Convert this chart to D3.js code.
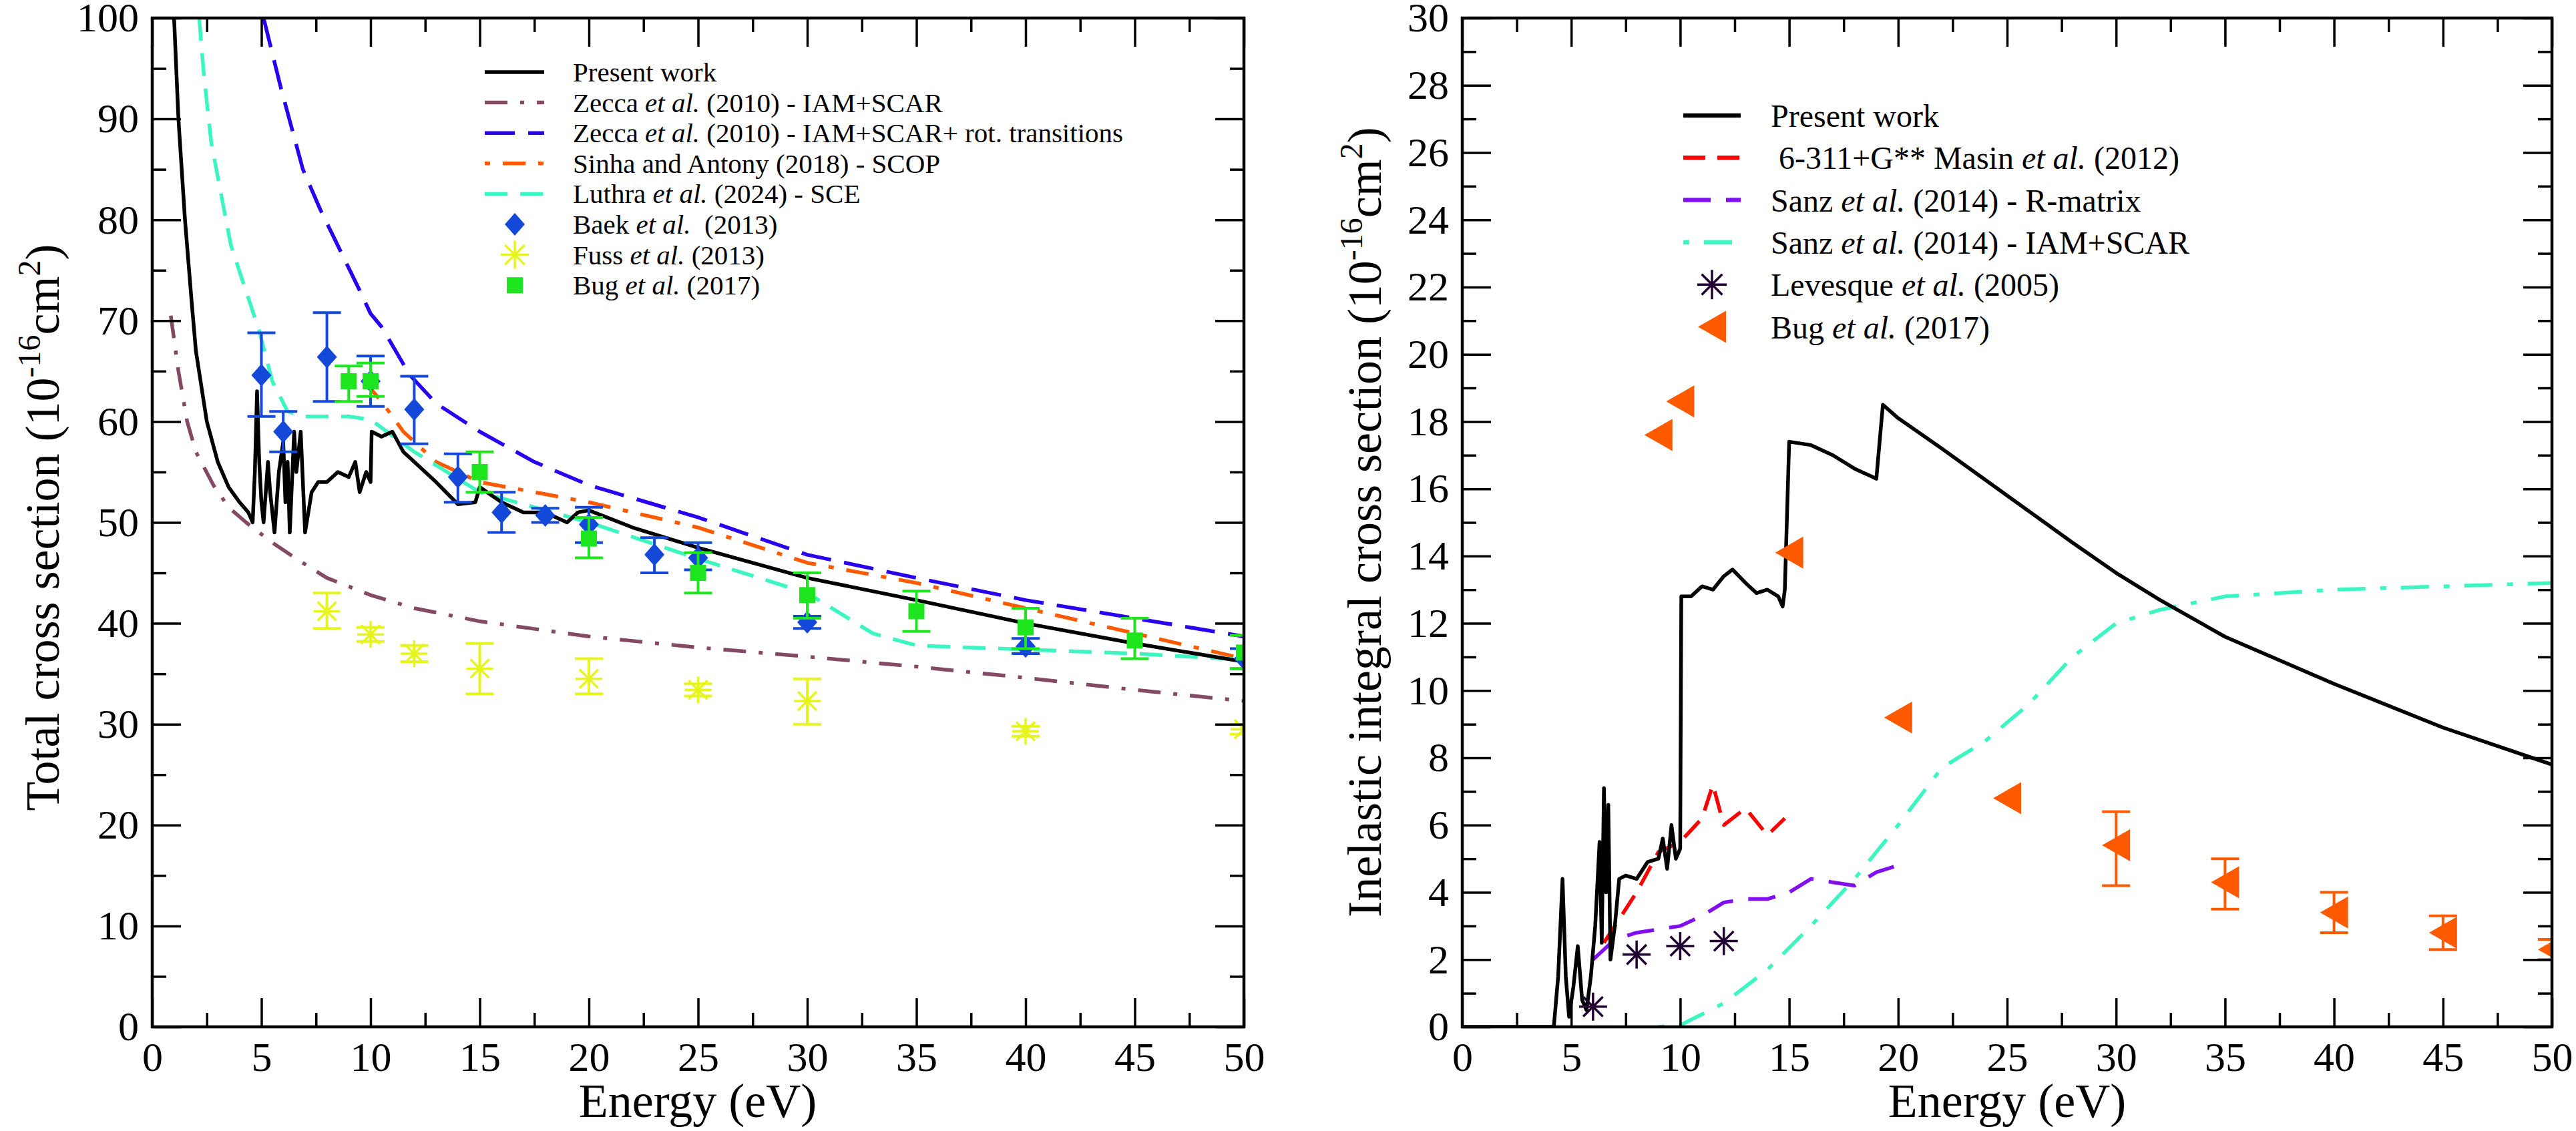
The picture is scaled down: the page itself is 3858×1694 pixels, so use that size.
<!DOCTYPE html>
<html><head><meta charset="utf-8">
<script src="https://cdn.jsdelivr.net/npm/d3@7"></script>
<style>body{margin:0;background:#fff}</style>
</head><body><svg id="c" width="3858" height="1694" xmlns="http://www.w3.org/2000/svg"></svg>
<script>
// ---------------- DATA (energy in eV, cross sections in 1e-16 cm^2) ----------------
// Left panel: total cross section
const totalPresent = [[1.0,100],[1.2,90],[1.5,80],[1.8,72],[2.0,67],[2.5,60],[3,56],[3.5,53.5],[4,52],[4.4,51],[4.6,50],[4.7,55],[4.8,63],[4.9,56],[5.0,52],[5.1,50],[5.3,56],[5.4,53],[5.6,49],[5.8,55],[6.0,58],[6.1,52],[6.2,56],[6.3,49],[6.5,59],[6.6,55],[6.8,59],[7.0,49],[7.3,53],[7.6,54],[8,54],[8.5,55],[9,54.5],[9.3,56],[9.5,53],[9.8,55],[10,54],[10.05,59],[10.5,58.5],[11,59],[11.5,57],[12,56],[13,54],[14,51.8],[14.8,52],[15,53.5],[16,52],[17,51],[18,51],[19,50],[19.5,51],[20,51.2],[22,49.5],[25,47.5],[30,44.5],[35,42.3],[40,40],[45,38],[50,36.2]];
const zeccaIAM = [[0.85,70.5],[1.2,65],[1.6,60],[2.0,57],[2.8,53.7],[3.5,51.5],[4.3,50],[5.5,48],[6.6,46.4],[8,44.5],[10,42.8],[12,41.5],[15,40.2],[20,38.7],[25,37.6],[30,36.7],[35,35.7],[40,34.6],[45,33.4],[50,32.3]];
const zeccaRot = [[5.1,100],[5.9,93],[6.9,85],[7.7,81],[8.6,77],[9.5,73],[10,70.7],[10.5,69.4],[11.8,64.6],[13,61.8],[15,59],[17.5,56],[20,53.7],[25,50.5],[30,46.8],[35,44.5],[40,42.3],[45,40.5],[50,38.7]];
const sinhaSCOP = [[9.7,64],[10.5,62],[11.5,59],[13,56],[15,54],[17.5,53],[20,52],[25,49.5],[30,46],[35,44],[40,41.5],[45,39],[50,36.5]];
const luthraSCE = [[2.15,100],[2.36,94.5],[2.7,87.7],[3.2,82],[3.6,77.5],[4.1,74.2],[4.9,69],[5.5,64],[6.2,61],[7,60.5],[8,60.5],[9,60.5],[10,60.2],[12,57],[15,53],[20,50],[25,46.4],[30,43],[33,39],[35,37.8],[40,37.4],[45,37],[50,36.4]];
// experimental points: [E, value, errLow, errHigh]
const baek = [[5,64.6,60.5,68.8],[6,59,57,61],[8,66.4,62,70.8],[10,64,61.5,66.5],[12,61.2,57.8,64.5],[14,54.5,52,56.8],[16,51,49,53],[18,50.7,50,51.4],[20,49.8,48,51.5],[23,46.8,45,48.5],[25,46.5,45.3,48],[30,40.1,39.5,40.7],[40,37.7,37,38.5],[50,36.5,35.5,37.5]];
const fuss = [[8,41.2,39.5,43],[10,38.9,38.2,39.6],[12,37,36.2,37.8],[15,35.5,33,38],[20,34.5,33,36.5],[25,33.4,32.8,34],[30,32.3,30,34.5],[40,29.3,28.8,29.8],[50,29.5,29,30]];
const bugTotal = [[9,64,62,65.5],[10,64,62.5,65.8],[15,55,53,57],[20,48.4,46.5,50.5],[25,45,43,47],[30,42.8,40.5,45],[35,41.2,39.2,43.2],[40,39.6,37.5,41.5],[45,38.3,36.5,40.5],[50,37.1,35.5,38.8]];

// Right panel: inelastic integral cross section
const inelPresent = [[0,0],[4.2,0],[4.4,1.5],[4.6,4.4],[4.75,1.5],[4.9,0.3],[5.1,1.2],[5.3,2.4],[5.5,0.8],[5.7,0.5],[5.9,1.5],[6.1,3],[6.3,5.5],[6.4,2.5],[6.5,7.1],[6.6,4],[6.7,6.6],[6.8,2],[7.0,3.0],[7.2,4.4],[7.5,4.5],[8,4.4],[8.5,4.9],[9,5],[9.2,5.6],[9.4,4.7],[9.6,6],[9.8,5],[10,5.3],[10.05,12.8],[10.5,12.8],[11,13.1],[11.5,13.0],[12,13.4],[12.4,13.6],[13,13.2],[13.5,12.9],[14,13],[14.5,12.8],[14.7,12.5],[14.8,13],[15,17.4],[16,17.3],[17,17.0],[18,16.6],[19,16.3],[19.3,18.5],[20,18.1],[22,17.2],[25,15.8],[28,14.4],[30,13.5],[32,12.7],[35,11.6],[40,10.2],[45,8.9],[50,7.8]];
const masin = [[6.5,2.5],[7,3],[8,4],[9,5.2],[10,5.5],[11,6.2],[11.5,7.2],[12,6],[13,6.5],[14,5.7],[14.8,6.2]];
const sanzR = [[6,2],[7,2.6],[8,2.8],[10,3],[11,3.3],[12,3.7],[13,3.8],[14,3.8],[15,4.0],[16,4.4],[17,4.3],[18,4.2],[19,4.6],[20,4.8]];
const sanzIAM = [[9,0],[10,0.05],[12,0.7],[14,1.7],[16,3],[18,4.4],[20,6],[22,7.7],[24,8.5],[26,9.6],[28,11.0],[30,12.0],[32,12.4],[35,12.8],[40,13.0],[45,13.1],[50,13.2]];
const levesque = [[6,0.6],[8,2.15],[10,2.4],[12,2.55]];
const bugInel = [[9,17.6,17.6,17.6],[10,18.6,18.6,18.6],[15,14.1,14.1,14.1],[20,9.2,9.2,9.2],[25,6.8,6.8,6.8],[30,5.4,4.2,6.4],[35,4.3,3.5,5.0],[40,3.4,2.8,4.0],[45,2.8,2.3,3.3],[50,2.3,2.0,2.6]];

// tick values
const xMajor = [0,5,10,15,20,25,30,35,40,45,50];
const xMinor = [2.5,7.5,12.5,17.5,22.5,27.5,32.5,37.5,42.5,47.5];
const yMajorL = [0,10,20,30,40,50,60,70,80,90,100];
const yMinorL = [5,15,25,35,45,55,65,75,85,95];
const yMajorR = [0,2,4,6,8,10,12,14,16,18,20,22,24,26,28,30];
const yMinorR = [1,3,5,7,9,11,13,15,17,19,21,23,25,27,29];

const legendLeft = ["Present work","Zecca |et al.| (2010) - IAM+SCAR","Zecca |et al.| (2010) - IAM+SCAR+ rot. transitions","Sinha and Antony (2018) - SCOP","Luthra |et al.| (2024) - SCE","Baek |et al.|  (2013)","Fuss |et al.| (2013)","Bug |et al.| (2017)"];
const legendRight = ["Present work"," 6-311+G** Masin |et al.| (2012)","Sanz |et al.| (2014) - R-matrix","Sanz |et al.| (2014) - IAM+SCAR","Levesque |et al.| (2005)","Bug |et al.| (2017)"];

// ---------------- DRAWING ----------------
const FONT = '"Liberation Serif","Times New Roman",Times,serif';
const svg = d3.select('#c');
svg.append('rect').attr('width',3858).attr('height',1694).attr('fill','#fff');

const C = {
  black:'#000', zeccaIAM:'#844a63', zeccaRot:'#2a00f0', sinha:'#ff5a00', luthra:'#3cf5c0',
  baek:'#1448d8', fuss:'#e6f51e', bug:'#1ee61e', masin:'#ff0000', sanzR:'#8010f0', sanzIAM:'#3cf5c0',
  lev:'#200030', bugR:'#ff5a00'
};
const LW = 5.5;

function makePanel(id, x0, x1, y0, y1, ymax, yMajor, yMinor){
  const x = d3.scaleLinear().domain([0,50]).range([x0,x1]);
  const y = d3.scaleLinear().domain([0,ymax]).range([y1,y0]);
  const g = svg.append('g');
  svg.append('clipPath').attr('id','clip'+id).append('rect')
    .attr('x',x0).attr('y',y0).attr('width',x1-x0).attr('height',y1-y0);
  const gd = g.append('g').attr('clip-path','url(#clip'+id+')');
  const axG = g.append('g');
  const fmt = d3.format('d');
  const style = s => { s.select('.domain').remove(); s.selectAll('line').attr('stroke','#000').attr('stroke-width',3.5);
    s.selectAll('text').attr('font-family',FONT).attr('font-size',62).attr('fill','#000'); };
  axG.append('g').attr('transform',`translate(0,${y1})`).call(d3.axisBottom(x).tickValues(xMajor).tickFormat(fmt).tickSizeInner(-43).tickSizeOuter(0).tickPadding(22)).call(style);
  axG.append('g').attr('transform',`translate(0,${y1})`).call(d3.axisBottom(x).tickValues(xMinor).tickFormat('').tickSizeInner(-21).tickSizeOuter(0)).call(style);
  axG.append('g').attr('transform',`translate(0,${y0})`).call(d3.axisTop(x).tickValues(xMajor).tickFormat('').tickSizeInner(-43).tickSizeOuter(0)).call(style);
  axG.append('g').attr('transform',`translate(0,${y0})`).call(d3.axisTop(x).tickValues(xMinor).tickFormat('').tickSizeInner(-21).tickSizeOuter(0)).call(style);
  axG.append('g').attr('transform',`translate(${x0},0)`).call(d3.axisLeft(y).tickValues(yMajor).tickFormat(fmt).tickSizeInner(-43).tickSizeOuter(0).tickPadding(20)).call(style);
  axG.append('g').attr('transform',`translate(${x0},0)`).call(d3.axisLeft(y).tickValues(yMinor).tickFormat('').tickSizeInner(-21).tickSizeOuter(0)).call(style);
  axG.append('g').attr('transform',`translate(${x1},0)`).call(d3.axisRight(y).tickValues(yMajor).tickFormat('').tickSizeInner(-43).tickSizeOuter(0)).call(style);
  axG.append('g').attr('transform',`translate(${x1},0)`).call(d3.axisRight(y).tickValues(yMinor).tickFormat('').tickSizeInner(-21).tickSizeOuter(0)).call(style);
  axG.append('rect').attr('x',x0).attr('y',y0).attr('width',x1-x0).attr('height',y1-y0)
    .attr('fill','none').attr('stroke','#000').attr('stroke-width',4.5);
  return {x,y,gd,g,axG};
}

function drawLine(p, data, color, dash){
  const line = d3.line().x(d=>p.x(d[0])).y(d=>p.y(d[1]));
  p.gd.append('path').datum(data).attr('d',line).attr('fill','none')
    .attr('stroke',color).attr('stroke-width',LW).attr('stroke-linejoin','round')
    .attr('stroke-dasharray',dash||null);
}
const diamond = 'M0,-17L15,0L0,17L-15,0Z';
const triLeft = 'M-21,0L21,-24L21,24Z';
function asterisk(g, cx, cy, r, color, sw){
  const a = [[0,-r,0,r],[-r,0,r,0],[-r*0.7,-r*0.7,r*0.7,r*0.7],[-r*0.7,r*0.7,r*0.7,-r*0.7]];
  a.forEach(s=>g.append('line').attr('x1',cx+s[0]).attr('y1',cy+s[1]).attr('x2',cx+s[2]).attr('y2',cy+s[3])
    .attr('stroke',color).attr('stroke-width',sw));
}
function errBars(p, data, color, cap){
  data.forEach(d=>{
    if (d[3]-d[2] <= 0) return;
    const xx=p.x(d[0]), ylo=p.y(d[2]), yhi=p.y(d[3]);
    p.gd.append('line').attr('x1',xx).attr('x2',xx).attr('y1',ylo).attr('y2',yhi).attr('stroke',color).attr('stroke-width',4);
    [ylo,yhi].forEach(yy=>p.gd.append('line').attr('x1',xx-cap).attr('x2',xx+cap).attr('y1',yy).attr('y2',yy).attr('stroke',color).attr('stroke-width',4));
  });
}
function richText(g, x, y, str, size){
  const t = g.append('text').attr('x',x).attr('y',y).attr('font-family',FONT).attr('font-size',size).attr('fill','#000').attr('dominant-baseline','central');
  str.split('|').forEach((s,i)=>{ t.append('tspan').text(s).attr('font-style', i%2 ? 'italic' : 'normal'); });
  t.attr('xml:space','preserve').style('white-space','pre');
}
function axisTitles(p, xc, yc, bx, ylabel){
  p.axG.append('text').attr('x',xc).attr('y',1673).attr('text-anchor','middle')
    .attr('font-family',FONT).attr('font-size',72).text('Energy (eV)');
  const t = p.axG.append('text').attr('transform',`translate(${bx},${yc}) rotate(-90)`)
    .attr('text-anchor','middle').attr('font-family',FONT).attr('font-size',72);
  t.append('tspan').text(ylabel+' (10');
  t.append('tspan').text('-16').attr('font-size',48).attr('dy',-28);
  t.append('tspan').text('cm').attr('dy',28);
  t.append('tspan').text('2').attr('font-size',48).attr('dy',-28);
  t.append('tspan').text(')').attr('dy',28);
}

// ----- Left panel -----
const L = makePanel('L', 228, 1863, 27, 1538, 100, yMajorL, yMinorL);
drawLine(L, zeccaIAM, C.zeccaIAM, '34,19,6,19');
drawLine(L, zeccaRot, C.zeccaRot, '45,20');
drawLine(L, sinhaSCOP, C.sinha, '34,19,8,19');
drawLine(L, luthraSCE, C.luthra, '34,19');
drawLine(L, totalPresent, C.black, null);
errBars(L, baek, C.baek, 21);
baek.forEach(d=>L.gd.append('path').attr('d',diamond).attr('transform',`translate(${L.x(d[0])},${L.y(d[1])})`).attr('fill',C.baek));
errBars(L, fuss, C.fuss, 21);
fuss.forEach(d=>asterisk(L.gd, L.x(d[0]), L.y(d[1]), 20, C.fuss, 3.5));
errBars(L, bugTotal, C.bug, 21);
bugTotal.forEach(d=>L.gd.append('rect').attr('x',L.x(d[0])-12).attr('y',L.y(d[1])-12).attr('width',24).attr('height',24).attr('fill',C.bug));
axisTitles(L, 1045, 790, 88, 'Total cross section');

// left legend
(function(){
  const g = L.axG.append('g');
  const x0=726, x1=815, tx=858, ys=d3.range(8).map(i=>108+i*45.6);
  const styles=[[C.black,null],[C.zeccaIAM,'34,19,6,19'],[C.zeccaRot,'45,20'],[C.sinha,'8,19,34,19'],[C.luthra,'34,19']];
  styles.forEach((s,i)=>g.append('line').attr('x1',x0).attr('x2',x1).attr('y1',ys[i]).attr('y2',ys[i]).attr('stroke',s[0]).attr('stroke-width',LW).attr('stroke-dasharray',s[1]));
  g.append('path').attr('d',diamond).attr('transform',`translate(771,${ys[5]})`).attr('fill',C.baek);
  asterisk(g, 771, ys[6], 21, C.fuss, 3.5);
  g.append('rect').attr('x',771-12).attr('y',ys[7]-12).attr('width',24).attr('height',24).attr('fill',C.bug);
  legendLeft.forEach((s,i)=>richText(g, tx, ys[i], s, 41));
})();

// ----- Right panel -----
const R = makePanel('R', 2190, 3822, 27, 1538, 30, yMajorR, yMinorR);
drawLine(R, sanzIAM, C.sanzIAM, '9,22,42,22');
drawLine(R, sanzR, C.sanzR, '41,23');
drawLine(R, masin, C.masin, '33,18');
drawLine(R, inelPresent, C.black, null);
levesque.forEach(d=>asterisk(R.gd, R.x(d[0]), R.y(d[1]), 21, C.lev, 3.5));
errBars(R, bugInel, C.bugR, 21);
bugInel.forEach(d=>R.gd.append('path').attr('d',triLeft).attr('transform',`translate(${R.x(d[0])},${R.y(d[1])})`).attr('fill',C.bugR));
axisTitles(R, 3006, 782, 2068, 'Inelastic integral cross section');

(function(){
  const g = R.axG.append('g');
  const x0=2521, x1=2607, tx=2652, ys=d3.range(6).map(i=>173+i*63.3);
  const styles=[[C.black,null],[C.masin,'33,18'],[C.sanzR,'41,23'],[C.sanzIAM,'9,22,42,22']];
  styles.forEach((s,i)=>g.append('line').attr('x1',x0).attr('x2',x1).attr('y1',ys[i]).attr('y2',ys[i]).attr('stroke',s[0]).attr('stroke-width',LW+1).attr('stroke-dasharray',s[1]));
  asterisk(g, 2564, ys[4], 22, C.lev, 3.5);
  g.append('path').attr('d',triLeft).attr('transform',`translate(2564,${ys[5]})`).attr('fill',C.bugR);
  legendRight.forEach((s,i)=>richText(g, tx, ys[i], s, 48));
})();
</script>
</body></html>
